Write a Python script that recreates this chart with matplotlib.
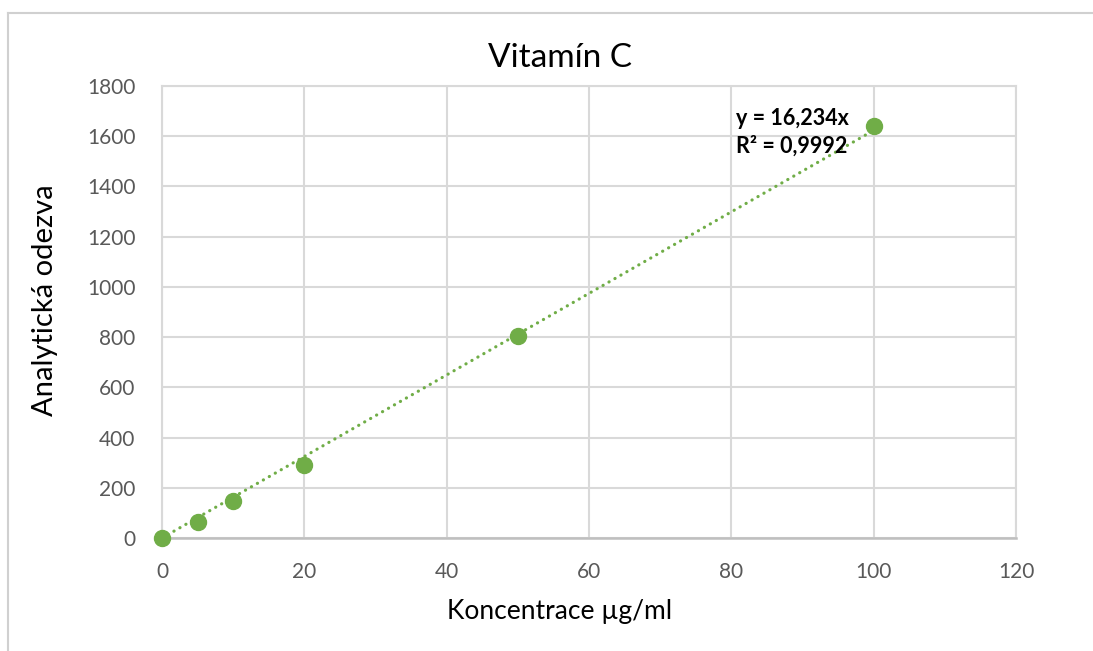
import numpy as np
import matplotlib.pyplot as plt
from matplotlib.lines import Line2D

plt.rcParams['font.family'] = ['Lato', 'DejaVu Sans']

# data
koncentrace = [0, 5, 10, 20, 50, 100]
odezva = [0, 64, 147, 291, 804, 1641]
slope = 16.234
r2_text = "0,9992"

x_ticks = [0, 20, 40, 60, 80, 100, 120]
y_ticks = [0, 200, 400, 600, 800, 1000, 1200, 1400, 1600, 1800]

green = "#70ad47"
grid_c = "#d9d9d9"
tick_c = "#595959"

fig = plt.figure(figsize=(10.93, 6.51), dpi=100)
ax = fig.add_axes([162/1093, 1 - 538/651, (1016 - 162)/1093, (538 - 86)/651])

# outer chart frame (only left and top edges visible)
fig.add_artist(Line2D([8/1093, 8/1093], [0, 1 - 13/651], transform=fig.transFigure, color="#d0d0d0", lw=1.5))
fig.add_artist(Line2D([8/1093, 1], [1 - 13/651, 1 - 13/651], transform=fig.transFigure, color="#d0d0d0", lw=1.5))

# trendline through origin
xs = np.array([0, max(koncentrace)])
ax.plot(xs, slope * xs, linestyle=(0, (0.05, 2.1)), color=green, lw=2.3,
        dash_capstyle="round", zorder=3)
ax.plot(koncentrace, odezva, "o", color=green, markersize=11.5, zorder=4,
        clip_on=False)

ax.set_xlim(0, 120)
ax.set_ylim(0, 1800)
ax.set_xticks(x_ticks)
ax.set_yticks(y_ticks)
ax.grid(True, color=grid_c, lw=1.5)
ax.set_axisbelow(True)
for side in ["top", "right", "left"]:
    ax.spines[side].set_color(grid_c)
    ax.spines[side].set_linewidth(1.5)
ax.spines["bottom"].set_color("#bfbfbf")
ax.spines["bottom"].set_linewidth(1.8)
ax.tick_params(length=0, labelsize=15, labelcolor=tick_c)
ax.tick_params(axis="y", pad=19)
ax.tick_params(axis="x", pad=17)

ax.text(80.6, 1712, f"y = {slope:.3f}x".replace(".", ",") + f"\nR² = {r2_text}",
        fontsize=15.5, fontweight="bold", va="top", ha="left", linespacing=1.35)

fig.text(560/1093, 1 - 58/651, "Vitamín C", fontsize=24, ha="center", va="center")
fig.text(560/1093, 1 - 612/651, "Koncentrace µg/ml", fontsize=19, ha="center", va="center")
fig.text(45/1093, 1 - 300/651, "Analytická odezva", fontsize=21, ha="center", va="center",
         rotation=90)

fig.savefig("out.png", dpi=100)
